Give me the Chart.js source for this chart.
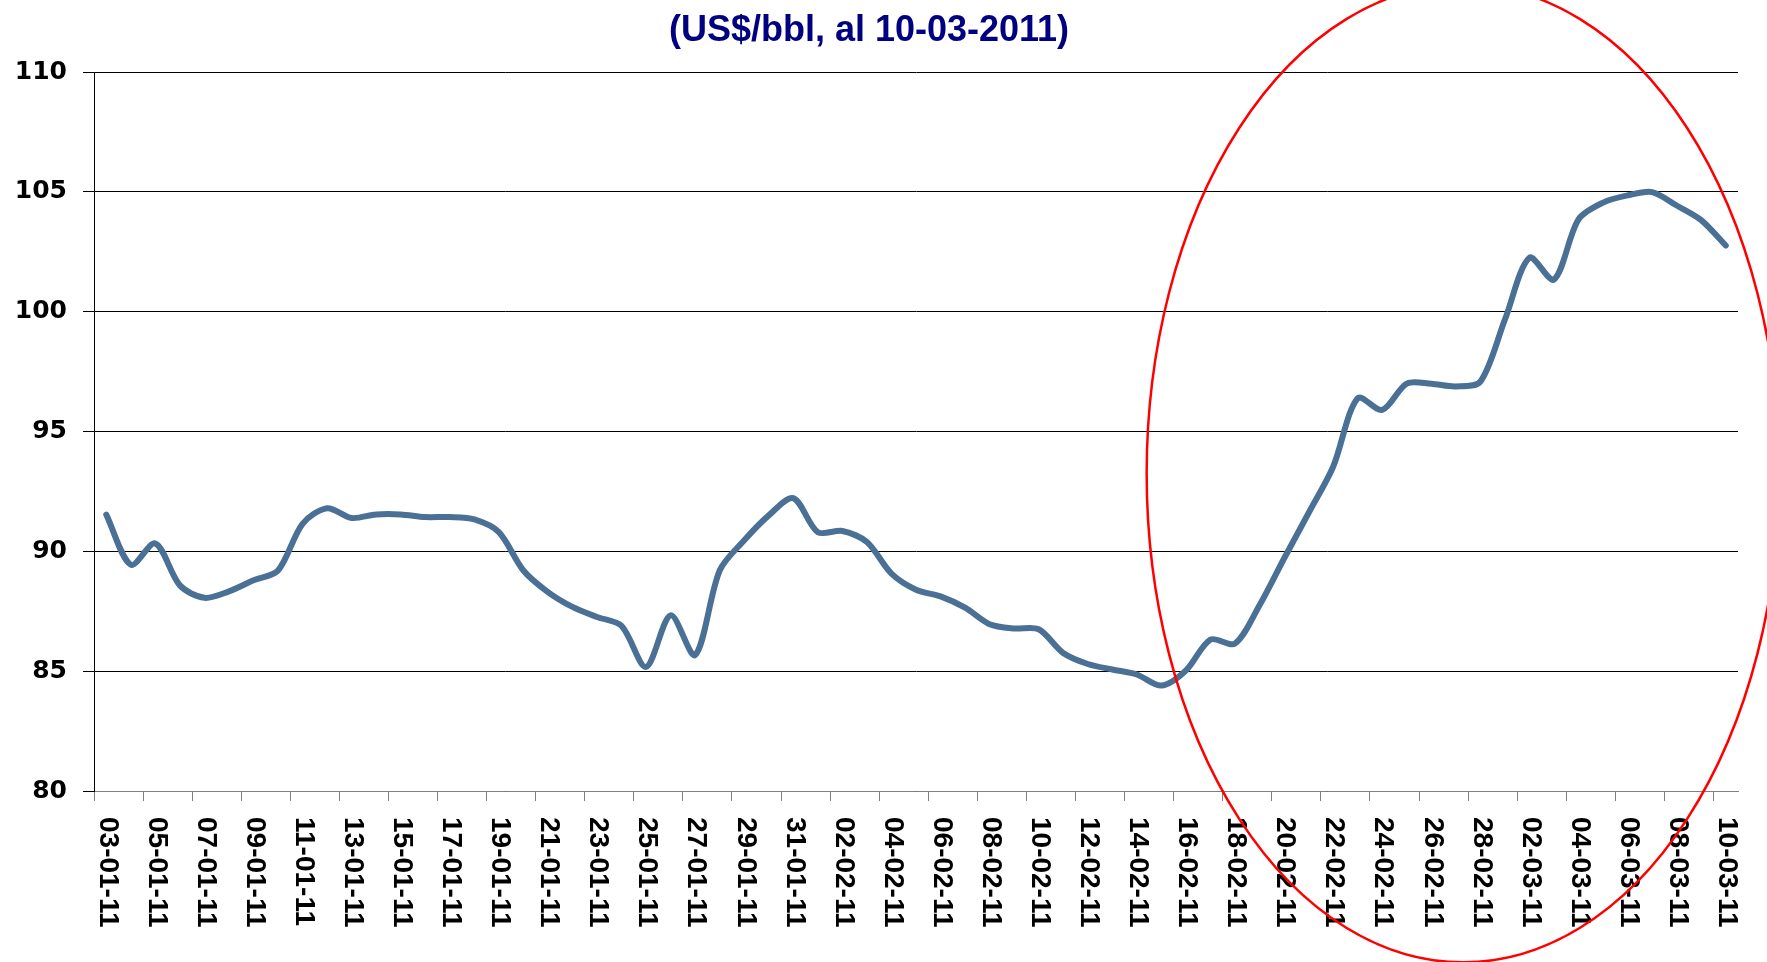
<!DOCTYPE html>
<html>
<head>
<meta charset="utf-8">
<script src="https://cdn.jsdelivr.net/npm/chart.js@4"></script>
<style>
  html, body { margin: 0; padding: 0; background: #fff; }
  canvas { display: block; }
</style>
</head>
<body>
<canvas id="brentChart" width="1767" height="962"></canvas>
<script>
// daily dates, 03-01-11 .. 10-03-11
const dates = [
  '03-01-11','04-01-11','05-01-11','06-01-11','07-01-11','08-01-11','09-01-11','10-01-11',
  '11-01-11','12-01-11','13-01-11','14-01-11','15-01-11','16-01-11','17-01-11','18-01-11',
  '19-01-11','20-01-11','21-01-11','22-01-11','23-01-11','24-01-11','25-01-11','26-01-11',
  '27-01-11','28-01-11','29-01-11','30-01-11','31-01-11','01-02-11','02-02-11','03-02-11',
  '04-02-11','05-02-11','06-02-11','07-02-11','08-02-11','09-02-11','10-02-11','11-02-11',
  '12-02-11','13-02-11','14-02-11','15-02-11','16-02-11','17-02-11','18-02-11','19-02-11',
  '20-02-11','21-02-11','22-02-11','23-02-11','24-02-11','25-02-11','26-02-11','27-02-11',
  '28-02-11','01-03-11','02-03-11','03-03-11','04-03-11','05-03-11','06-03-11','07-03-11',
  '08-03-11','09-03-11','10-03-11'
];

// US$/bbl
const prices = [
  91.53, 89.44, 90.33, 88.58, 88.06, 88.33, 88.79, 89.20,
  91.15, 91.80, 91.39, 91.54, 91.54, 91.43, 91.43, 91.33,
  90.80, 89.20, 88.30, 87.68, 87.26, 86.89, 85.18, 87.33,
  85.67, 89.20, 90.46, 91.50, 92.22, 90.80, 90.85, 90.39,
  89.07, 88.40, 88.12, 87.65, 86.96, 86.78, 86.75, 85.76,
  85.30, 85.07, 84.86, 84.40, 85.03, 86.32, 86.15, 87.75,
  89.70, 91.60, 93.53, 96.39, 95.90, 97.00, 96.99, 96.88,
  97.08, 99.67, 102.25, 101.34, 103.85, 104.55, 104.85, 104.99,
  104.43, 103.82, 102.76
];

// labels shown on the axis (every second day)
const tickLabels = [
  '03-01-11','05-01-11','07-01-11','09-01-11','11-01-11','13-01-11','15-01-11','17-01-11',
  '19-01-11','21-01-11','23-01-11','25-01-11','27-01-11','29-01-11','31-01-11','02-02-11',
  '04-02-11','06-02-11','08-02-11','10-02-11','12-02-11','14-02-11','16-02-11','18-02-11',
  '20-02-11','22-02-11','24-02-11','26-02-11','28-02-11','02-03-11','04-03-11','06-03-11',
  '08-03-11','10-03-11'
];

const yTicks = [80, 85, 90, 95, 100, 105, 110];

// highlight ellipse, in data units (category index / price)
const ring = { cx: 55.3, cy: 93.25, rDays: 12.9, rPrice: 20.4 };

const overlay = {
  id: 'overlay',
  afterDraw(chart) {
    const ctx = chart.ctx;
    const xs = chart.scales.x;
    const ys = chart.scales.y;

    // rotated date labels, reading top to bottom
    ctx.save();
    ctx.fillStyle = '#000';
    ctx.font = 'bold 28px "Liberation Sans", Arial, sans-serif';
    ctx.textAlign = 'left';
    ctx.textBaseline = 'middle';
    tickLabels.forEach(lab => {
      const x = xs.getPixelForValue(dates.indexOf(lab));
      ctx.save();
      ctx.translate(x + 1, xs.top + 26);
      ctx.rotate(Math.PI / 2);
      ctx.fillText(lab, 0, 0);
      ctx.restore();
    });
    ctx.restore();

    // red ellipse
    const cx = xs.getPixelForValue(ring.cx);
    const cy = ys.getPixelForValue(ring.cy);
    const rx = xs.getPixelForValue(ring.cx + ring.rDays) - cx;
    const ry = cy - ys.getPixelForValue(ring.cy + ring.rPrice);
    ctx.save();
    ctx.strokeStyle = '#ff0000';
    ctx.lineWidth = 2.5;
    ctx.beginPath();
    ctx.ellipse(cx, cy, rx, ry, 0, 0, Math.PI * 2);
    ctx.stroke();
    ctx.restore();

    // title
    ctx.save();
    ctx.fillStyle = '#000080';
    ctx.font = 'bold 36px "Liberation Sans", Arial, sans-serif';
    ctx.textAlign = 'center';
    ctx.textBaseline = 'alphabetic';
    ctx.fillText('(US$/bbl, al 10-03-2011)', 869, 41);
    ctx.restore();
  }
};

new Chart(document.getElementById('brentChart'), {
  type: 'line',
  data: {
    labels: dates,
    datasets: [{
      label: 'US$/bbl',
      data: prices,
      borderColor: '#4a7096',
      borderWidth: 6,
      pointRadius: 0,
      tension: 0.3,
      fill: false,
      borderCapStyle: 'round',
      borderJoinStyle: 'round'
    }]
  },
  options: {
    responsive: false,
    animation: false,
    devicePixelRatio: 1,
    layout: { padding: { top: 72, right: 29, left: 0, bottom: 0 } },
    plugins: {
      legend: { display: false },
      title: { display: false },
      tooltip: { enabled: false }
    },
    scales: {
      x: {
        type: 'category',
        offset: true,
        afterFit(scale) { scale.height = 171; },
        ticks: { display: false, autoSkip: false },
        grid: {
          offset: true,
          drawOnChartArea: false,
          drawTicks: true,
          tickLength: 10,
          color: c => (c.index !== undefined && c.index % 2 === 0) ? '#808080' : 'rgba(0,0,0,0)'
        },
        border: { display: true, color: '#808080', width: 1 }
      },
      y: {
        min: 80,
        max: 110,
        afterFit(scale) { scale.width = 94; },
        afterBuildTicks(scale) { scale.ticks = yTicks.map(v => ({ value: v })); },
        ticks: {
          color: '#000',
          padding: 16,
          font: { family: '"DejaVu Sans", Verdana, sans-serif', weight: 'bold', size: 25 }
        },
        grid: { color: '#000', lineWidth: 1, tickLength: 11 },
        border: { display: true, color: '#000', width: 1 }
      }
    }
  },
  plugins: [overlay]
});
</script>
</body>
</html>
